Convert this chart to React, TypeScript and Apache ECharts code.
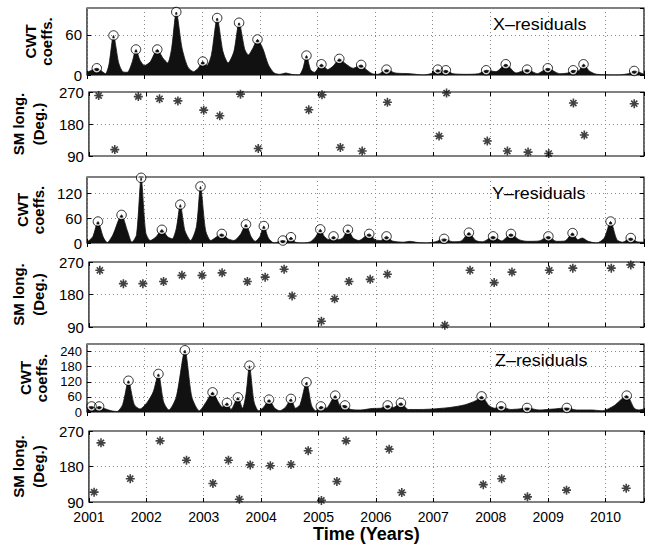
import React, { useEffect, useRef } from "react";
import * as echarts from "echarts";

// ---- data ----
const yearTicks = [2001, 2002, 2003, 2004, 2005, 2006, 2007, 2008, 2009, 2010];

// X-residuals: CWT envelope, peaks and SM longitudes
const xEnvelope: [number, number][] = [
  [2001.0, 4], [2001.08, 7], [2001.17, 10], [2001.25, 6], [2001.32, 2], [2001.38, 15], [2001.46, 59], [2001.55, 18],
  [2001.62, 5], [2001.7, 4], [2001.78, 18], [2001.85, 38], [2001.92, 22], [2002.0, 14], [2002.1, 20], [2002.22, 38],
  [2002.32, 25], [2002.4, 18], [2002.47, 40], [2002.55, 94], [2002.65, 40], [2002.75, 12], [2002.85, 5], [2002.93, 10],
  [2003.01, 20], [2003.08, 14], [2003.16, 30], [2003.26, 85], [2003.36, 35], [2003.45, 18], [2003.55, 35], [2003.64, 78],
  [2003.74, 38], [2003.8, 30], [2003.88, 40], [2003.96, 53], [2004.05, 40], [2004.15, 15], [2004.25, 3], [2004.35, 1],
  [2004.45, 3], [2004.55, 1], [2004.68, 0], [2004.75, 10], [2004.81, 29], [2004.88, 8], [2004.95, 4], [2005.07, 16],
  [2005.18, 8], [2005.28, 14], [2005.38, 24], [2005.5, 16], [2005.62, 10], [2005.76, 15], [2005.85, 8], [2005.95, 2],
  [2006.05, 1], [2006.2, 8], [2006.35, 3], [2006.6, 2], [2006.85, 0], [2007.0, 3], [2007.09, 8], [2007.16, 5],
  [2007.23, 7], [2007.35, 2], [2007.6, 1], [2007.8, 2], [2007.93, 7], [2008.1, 5], [2008.27, 16], [2008.45, 3],
  [2008.64, 8], [2008.82, 2], [2009.0, 10], [2009.2, 2], [2009.35, 3], [2009.44, 7], [2009.53, 6], [2009.62, 16],
  [2009.72, 6], [2009.85, 1], [2010.2, 0], [2010.4, 2], [2010.5, 6], [2010.67, 1],
];
const xPeaks: [number, number][] = [
  [2001.17, 10], [2001.46, 59], [2001.85, 38], [2002.22, 38], [2002.55, 94], [2003.01, 20], [2003.26, 85],
  [2003.64, 78], [2003.96, 53], [2004.81, 29], [2005.07, 16], [2005.38, 24], [2005.76, 15], [2006.2, 8],
  [2007.09, 8], [2007.23, 7], [2007.93, 7], [2008.27, 16], [2008.64, 8], [2009.0, 10], [2009.44, 7],
  [2009.62, 16], [2010.5, 6],
];
const xLongitude: [number, number][] = [
  [2001.17, 260], [2001.45, 108], [2001.86, 257], [2002.23, 251], [2002.55, 245], [2003.0, 219], [2003.28, 203],
  [2003.64, 264], [2003.95, 111], [2004.83, 220], [2005.06, 262], [2005.38, 114], [2005.76, 104], [2006.2, 241],
  [2007.1, 146], [2007.23, 267], [2007.94, 132], [2008.29, 104], [2008.65, 101], [2009.01, 97], [2009.44, 239],
  [2009.63, 149], [2010.5, 237],
];

// Y-residuals
const yEnvelope: [number, number][] = [
  [2001.0, 2], [2001.1, 15], [2001.19, 52], [2001.28, 15], [2001.35, 1], [2001.45, 20], [2001.6, 68], [2001.7, 30],
  [2001.78, 2], [2001.86, 20], [2001.94, 158], [2002.02, 25], [2002.1, 6], [2002.2, 15], [2002.3, 32], [2002.4, 15],
  [2002.48, 10], [2002.55, 35], [2002.62, 93], [2002.7, 30], [2002.8, 6], [2002.9, 40], [2002.97, 137], [2003.06, 30],
  [2003.15, 6], [2003.25, 15], [2003.34, 22], [2003.45, 10], [2003.55, 6], [2003.66, 20], [2003.76, 45], [2003.85, 15],
  [2003.92, 4], [2004.0, 15], [2004.07, 41], [2004.15, 12], [2004.25, 0], [2004.4, 6], [2004.47, 4], [2004.54, 14],
  [2004.62, 2], [2004.75, 0], [2004.88, 3], [2004.97, 15], [2005.05, 33], [2005.12, 16], [2005.2, 8], [2005.28, 16],
  [2005.36, 8], [2005.44, 12], [2005.53, 32], [2005.62, 12], [2005.72, 6], [2005.9, 22], [2006.0, 8], [2006.1, 6],
  [2006.2, 16], [2006.3, 5], [2006.5, 2], [2006.6, 4], [2006.75, 1], [2006.9, 0], [2007.05, 3], [2007.2, 10],
  [2007.35, 3], [2007.5, 5], [2007.63, 25], [2007.75, 6], [2007.87, 3], [2008.05, 16], [2008.2, 5], [2008.36, 22],
  [2008.5, 8], [2008.65, 4], [2008.85, 5], [2009.01, 16], [2009.15, 4], [2009.3, 5], [2009.43, 24], [2009.52, 8],
  [2009.6, 12], [2009.7, 4], [2009.85, 0], [2009.98, 12], [2010.09, 52], [2010.2, 8], [2010.3, 2], [2010.44, 12],
  [2010.55, 3], [2010.67, 2],
];
const yPeaks: [number, number][] = [
  [2001.19, 52], [2001.6, 68], [2001.94, 158], [2002.3, 32], [2002.62, 93], [2002.97, 137], [2003.34, 22],
  [2003.76, 45], [2004.07, 41], [2004.4, 6], [2004.54, 14], [2005.05, 33], [2005.28, 16], [2005.53, 32],
  [2005.9, 22], [2006.2, 16], [2007.2, 10], [2007.63, 25], [2008.05, 16], [2008.36, 22], [2009.01, 16],
  [2009.43, 24], [2010.09, 52], [2010.44, 12],
];
const yLongitude: [number, number][] = [
  [2001.19, 247], [2001.6, 210], [2001.94, 210], [2002.3, 216], [2002.62, 233], [2002.97, 233], [2003.32, 240],
  [2003.76, 216], [2004.07, 228], [2004.4, 250], [2004.54, 176], [2005.05, 106], [2005.28, 168], [2005.53, 216],
  [2005.9, 222], [2006.2, 236], [2007.2, 95], [2007.64, 247], [2008.06, 213], [2008.37, 242], [2009.02, 247],
  [2009.43, 253], [2010.1, 253], [2010.44, 262],
];

// Z-residuals
const zEnvelope: [number, number][] = [
  [2001.0, 18], [2001.08, 22], [2001.15, 16], [2001.21, 22], [2001.3, 14], [2001.42, 5], [2001.52, 2], [2001.62, 30],
  [2001.72, 124], [2001.82, 30], [2001.92, 12], [2002.05, 40], [2002.15, 80], [2002.24, 151], [2002.33, 40], [2002.42, 8],
  [2002.55, 60], [2002.7, 245], [2002.82, 60], [2002.95, 5], [2003.07, 40], [2003.18, 78], [2003.28, 40], [2003.35, 20],
  [2003.43, 36], [2003.5, 10], [2003.62, 58], [2003.7, 15], [2003.76, 70], [2003.82, 184], [2003.9, 40], [2003.98, 5],
  [2004.07, 20], [2004.16, 49], [2004.26, 15], [2004.35, 5], [2004.45, 20], [2004.54, 52], [2004.62, 15], [2004.7, 30],
  [2004.81, 118], [2004.9, 25], [2004.97, 5], [2005.06, 22], [2005.15, 15], [2005.31, 65], [2005.4, 25], [2005.48, 26],
  [2005.58, 10], [2005.75, 8], [2005.95, 14], [2006.1, 15], [2006.22, 26], [2006.32, 18], [2006.45, 36], [2006.58, 10],
  [2006.8, 10], [2007.0, 12], [2007.3, 18], [2007.55, 28], [2007.75, 45], [2007.85, 62], [2007.98, 25], [2008.08, 15],
  [2008.19, 22], [2008.35, 10], [2008.5, 12], [2008.64, 16], [2008.85, 8], [2009.1, 12], [2009.33, 16], [2009.5, 8],
  [2009.75, 8], [2009.95, 5], [2010.15, 25], [2010.37, 65], [2010.5, 15], [2010.58, 8], [2010.67, 12],
];
const zPeaks: [number, number][] = [
  [2001.08, 22], [2001.21, 22], [2001.72, 124], [2002.24, 151], [2002.7, 245], [2003.18, 78], [2003.43, 36],
  [2003.62, 58], [2003.82, 184], [2004.16, 49], [2004.54, 52], [2004.81, 118], [2005.06, 22], [2005.31, 65],
  [2005.48, 26], [2006.22, 26], [2006.45, 36], [2007.85, 62], [2008.19, 22], [2008.64, 16], [2009.33, 16],
  [2010.37, 65],
];
const zLongitude: [number, number][] = [
  [2001.09, 115], [2001.21, 240], [2001.72, 149], [2002.24, 245], [2002.7, 196], [2003.16, 137], [2003.43, 196],
  [2003.62, 97], [2003.81, 184], [2004.16, 182], [2004.52, 185], [2004.82, 220], [2005.05, 94], [2005.32, 142],
  [2005.48, 245], [2006.23, 224], [2006.45, 114], [2007.87, 134], [2008.19, 149], [2008.64, 103], [2009.32, 120],
  [2010.36, 125],
];

const cwtTickLabels = [[0, 60], [0, 60, 120], [0, 60, 120, 180, 240]];
const cwtMax = [100, 160, 270];
const panelNames = ["X\u2013residuals", "Y\u2013residuals", "Z\u2013residuals"];
const smTickLabels = [90, 180, 270];

// ---- layout ----
const FONT = "Liberation Sans";
const X_MIN = 2001;
const X_MAX = 2010.67;
const LEFT = 87;
const RIGHT = 5;
const grids = [
  { top: 8, height: 67 },
  { top: 92, height: 64 },
  { top: 177, height: 66 },
  { top: 262, height: 65 },
  { top: 344, height: 68 },
  { top: 431, height: 71 },
];
const cwtNameGap = [19, 34, 34];
const cwtLabelSize = [15, 15, 13];
const labelPos = [
  { x: 493, y: 26 },
  { x: 492, y: 195 },
  { x: 495, y: 362 },
];

const ASTERISK = "path://M5,0L5,10M0,5L10,5M1.6,1.6L8.4,8.4M8.4,1.6L1.6,8.4";

function buildOption() {
  const grid: any[] = [];
  const xAxis: any[] = [];
  const yAxis: any[] = [];
  const series: any[] = [];
  const tick = { inside: true, length: 4, lineStyle: { color: "#000", width: 1 } };
  const split = { show: true, lineStyle: { color: "#888", width: 1, type: [1, 3] } };

  grids.forEach((g, i) => {
    grid.push({ left: LEFT, right: RIGHT, top: g.top, height: g.height, show: true, borderColor: "#000", borderWidth: 1.2, backgroundColor: "#fff" });
    const isLast = i === grids.length - 1;
    const isCwt = i % 2 === 0;
    const k = Math.floor(i / 2);
    xAxis.push({
      type: "value", gridIndex: i, min: X_MIN, max: X_MAX, interval: 1, position: "bottom",
      axisLine: { show: false }, axisTick: tick, splitLine: split,
      axisLabel: {
        show: isLast, color: "#000", fontFamily: FONT, fontSize: 14, margin: 8,
        formatter: (v: number) => (yearTicks.includes(Math.round(v * 100) / 100) ? String(v) : ""),
      },
      name: isLast ? "Time (Years)" : "", nameLocation: "middle", nameGap: 22,
      nameTextStyle: { color: "#000", fontFamily: FONT, fontSize: 18, fontWeight: "bold" },
    });
    xAxis.push({
      type: "value", gridIndex: i, min: X_MIN, max: X_MAX, interval: 1, position: "top",
      axisLine: { show: false }, axisTick: tick, splitLine: { show: false }, axisLabel: { show: false },
    });
    const yMin = isCwt ? 0 : 90;
    const yMax = isCwt ? cwtMax[k] : 270;
    const yInt = isCwt ? 60 : 90;
    const labels = isCwt ? cwtTickLabels[k] : smTickLabels;
    yAxis.push({
      type: "value", gridIndex: i, min: yMin, max: yMax, interval: yInt, position: "left",
      axisLine: { show: false }, axisTick: tick, splitLine: split,
      axisLabel: {
        color: "#000", fontFamily: FONT, fontSize: isCwt ? cwtLabelSize[k] : 15, margin: 5,
        showMaxLabel: labels.includes(yMax),
        formatter: (v: number) => (labels.includes(v) ? String(v) : ""),
      },
      name: isCwt ? "CWT\ncoeffs." : "SM long.\n(Deg.)",
      nameLocation: "middle", nameRotate: 90,
      nameGap: isCwt ? cwtNameGap[k] : 31,
      nameTextStyle: { color: "#000", fontFamily: FONT, fontSize: 15, fontWeight: "bold", lineHeight: isCwt ? 16 : 20 },
    });
    yAxis.push({
      type: "value", gridIndex: i, min: yMin, max: yMax, interval: yInt, position: "right",
      axisLine: { show: false }, axisTick: tick, splitLine: { show: false }, axisLabel: { show: false },
    });

    if (isCwt) {
      const env = [xEnvelope, yEnvelope, zEnvelope][k];
      const peaks = [xPeaks, yPeaks, zPeaks][k];
      series.push({
        type: "line", xAxisIndex: 2 * i, yAxisIndex: 2 * i, data: env, showSymbol: false, smooth: 0.25,
        lineStyle: { color: "#111", width: 0.8 }, areaStyle: { color: "#111", opacity: 1 }, z: 2,
      });
      series.push({
        type: "scatter", xAxisIndex: 2 * i, yAxisIndex: 2 * i, data: peaks, symbol: "circle", symbolSize: 7,
        itemStyle: { color: "none", borderColor: "#fff", borderWidth: 1.6 }, z: 3,
      });
      series.push({
        type: "scatter", xAxisIndex: 2 * i, yAxisIndex: 2 * i, data: peaks, symbol: "circle", symbolSize: 9.5,
        itemStyle: { color: "none", borderColor: "#000", borderWidth: 1 }, z: 4,
      });
    } else {
      const lon = [xLongitude, yLongitude, zLongitude][k];
      series.push({
        type: "scatter", xAxisIndex: 2 * i, yAxisIndex: 2 * i, data: lon, symbol: ASTERISK, symbolSize: 9,
        itemStyle: { color: "none", borderColor: "#111", borderWidth: 1.6 }, z: 3,
      });
    }
  });

  const graphic = panelNames.map((t, k) => ({
    type: "text", left: labelPos[k].x, top: labelPos[k].y - 9, z: 10,
    scaleX: 1.12,
    style: { text: t, fill: "#000", fontFamily: FONT, fontSize: 16 },
  }));

  return { animation: false, backgroundColor: "#fff", grid, xAxis, yAxis, series, graphic };
}

export default function App() {
  const ref = useRef<HTMLDivElement>(null);
  useEffect(() => {
    if (!ref.current) return;
    const chart = echarts.init(ref.current, undefined, { renderer: "svg" });
    chart.setOption(buildOption() as any);
    return () => chart.dispose();
  }, []);
  return <div ref={ref} style={{ position: "fixed", left: 0, top: 0, width: 649, height: 546 }} />;
}
